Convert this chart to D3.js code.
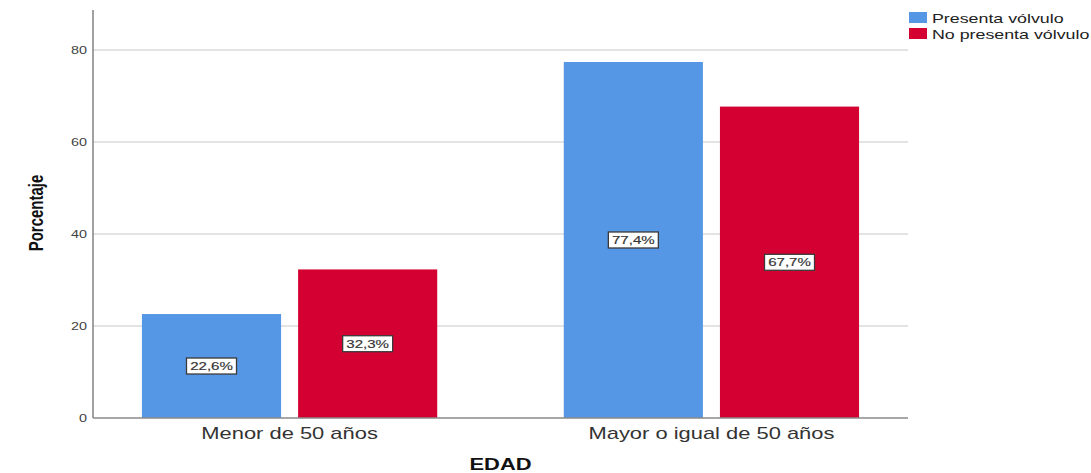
<!DOCTYPE html>
<html>
<head>
<meta charset="utf-8">
<script src="https://cdn.jsdelivr.net/npm/d3@7"></script>
<style>
  html, body { margin: 0; padding: 0; background: #ffffff; }
  svg { display: block; }
</style>
</head>
<body>
<svg id="chart" width="1091" height="473"></svg>
<script>
// Age groups and the share of each group per series
const categories = ["Menor de 50 años", "Mayor o igual de 50 años"];
const seriesNames = ["Presenta vólvulo", "No presenta vólvulo"];
const presentaValues = [22.6, 77.4];
const noPresentaValues = [32.3, 67.7];
const yTicks = [0, 20, 40, 60, 80];
const colors = ["#5596e5", "#d50032"];

const FONT = "Liberation Sans, Arial, Helvetica, sans-serif";
const SX = 1.37; // horizontal widening applied to all text

const svg = d3.select("#chart");
const plotLeft = 93, plotRight = 908, plotTop = 10, plotBottom = 418;

// move a text's x/y into a transform so it can be widened horizontally
function widen(sel, extra = "") {
  sel.each(function () {
    const t = d3.select(this);
    const x = +t.attr("x") || 0, y = +t.attr("y") || 0;
    t.attr("x", null).attr("y", null)
      .attr("transform", `translate(${x},${y}) scale(${SX},1) ${extra}`);
  });
}

const rows = categories.map((c, i) => ({
  category: c,
  values: [presentaValues[i], noPresentaValues[i]]
}));

const x0 = d3.scaleBand()
  .domain(categories)
  .range([plotLeft, plotRight])
  .paddingInner(0.3)
  .paddingOuter(0.116);

const x1 = d3.scaleBand()
  .domain(d3.range(seriesNames.length))
  .range([0, x0.bandwidth()])
  .paddingInner(0.109);

const y = d3.scaleLinear()
  .domain([0, 88.7])
  .range([plotBottom, plotTop]);

// light horizontal gridlines
svg.append("g")
  .selectAll("line")
  .data(yTicks.filter(t => t > 0))
  .join("line")
  .attr("x1", plotLeft).attr("x2", plotRight)
  .attr("y1", d => y(d)).attr("y2", d => y(d))
  .attr("stroke", "#dadada")
  .attr("stroke-width", 1.3);

// bars
const groups = svg.append("g")
  .selectAll("g")
  .data(rows)
  .join("g")
  .attr("transform", d => `translate(${x0(d.category)},0)`);

groups.selectAll("rect")
  .data(d => d.values.map((v, i) => ({ v, i })))
  .join("rect")
  .attr("x", d => x1(d.i))
  .attr("width", x1.bandwidth())
  .attr("y", d => y(d.v))
  .attr("height", d => y(0) - y(d.v))
  .attr("fill", d => colors[d.i]);

// value labels in white boxes at mid-bar
const fmt = v => v.toFixed(1).replace(".", ",") + "%";
const labels = groups.selectAll("g.lbl")
  .data(d => d.values.map((v, i) => ({ v, i })))
  .join("g")
  .attr("class", "lbl")
  .attr("transform", d => `translate(${x1(d.i) + x1.bandwidth() / 2},${(y(d.v) + y(0)) / 2})`);

labels.append("rect")
  .attr("x", -25).attr("y", -8)
  .attr("width", 50).attr("height", 16)
  .attr("fill", "#ffffff")
  .attr("stroke", "#3a3a3a")
  .attr("stroke-width", 1.3);

labels.append("text")
  .attr("text-anchor", "middle")
  .attr("dy", "0.36em")
  .attr("font-family", FONT)
  .attr("font-size", 11)
  .attr("fill", "#333333")
  .attr("stroke", "#333333")
  .attr("stroke-width", 0.15)
  .text(d => fmt(d.v))
  .call(widen);

// y axis
const yAxis = svg.append("g")
  .attr("transform", `translate(${plotLeft},0)`)
  .call(d3.axisLeft(y).tickValues(yTicks).tickSize(0).tickPadding(6));
yAxis.select(".domain").remove();
yAxis.selectAll("text")
  .attr("font-family", FONT)
  .attr("font-size", 10.5)
  .attr("fill", "#444444")
  .call(widen);
svg.append("line")
  .attr("x1", plotLeft).attr("x2", plotLeft)
  .attr("y1", plotTop).attr("y2", plotBottom)
  .attr("stroke", "#8a8a8a").attr("stroke-width", 1.6);

// x axis
const xAxis = svg.append("g")
  .attr("transform", `translate(0,${plotBottom})`)
  .call(d3.axisBottom(x0).tickSize(0).tickPadding(0));
xAxis.select(".domain").remove();
xAxis.selectAll("text")
  .attr("y", 21)
  .attr("dy", null)
  .attr("font-family", FONT)
  .attr("font-size", 16)
  .attr("fill", "#333333")
  .call(widen);
svg.append("line")
  .attr("x1", plotLeft).attr("x2", plotRight)
  .attr("y1", plotBottom).attr("y2", plotBottom)
  .attr("stroke", "#8a8a8a").attr("stroke-width", 1.6);

// axis titles
svg.append("text")
  .attr("x", 43)
  .attr("y", 213)
  .attr("text-anchor", "middle")
  .attr("font-family", FONT)
  .attr("font-weight", "bold")
  .attr("font-size", 15)
  .attr("fill", "#111111")
  .text("Porcentaje")
  .call(widen, "rotate(-90)");

svg.append("text")
  .attr("x", (plotLeft + plotRight) / 2)
  .attr("y", 470)
  .attr("text-anchor", "middle")
  .attr("font-family", FONT)
  .attr("font-weight", "bold")
  .attr("font-size", 16)
  .attr("fill", "#111111")
  .text("EDAD")
  .call(widen);

// legend
const legend = svg.append("g").attr("transform", "translate(909,12)");
const items = legend.selectAll("g")
  .data(seriesNames)
  .join("g")
  .attr("transform", (d, i) => `translate(0,${i * 16})`);
items.append("rect")
  .attr("width", 18).attr("height", 11)
  .attr("fill", (d, i) => colors[i]);
items.append("text")
  .attr("x", 23).attr("y", 10.5)
  .attr("font-family", FONT)
  .attr("font-size", 13)
  .attr("fill", "#222222")
  .text(d => d)
  .call(widen);
</script>
</body>
</html>
